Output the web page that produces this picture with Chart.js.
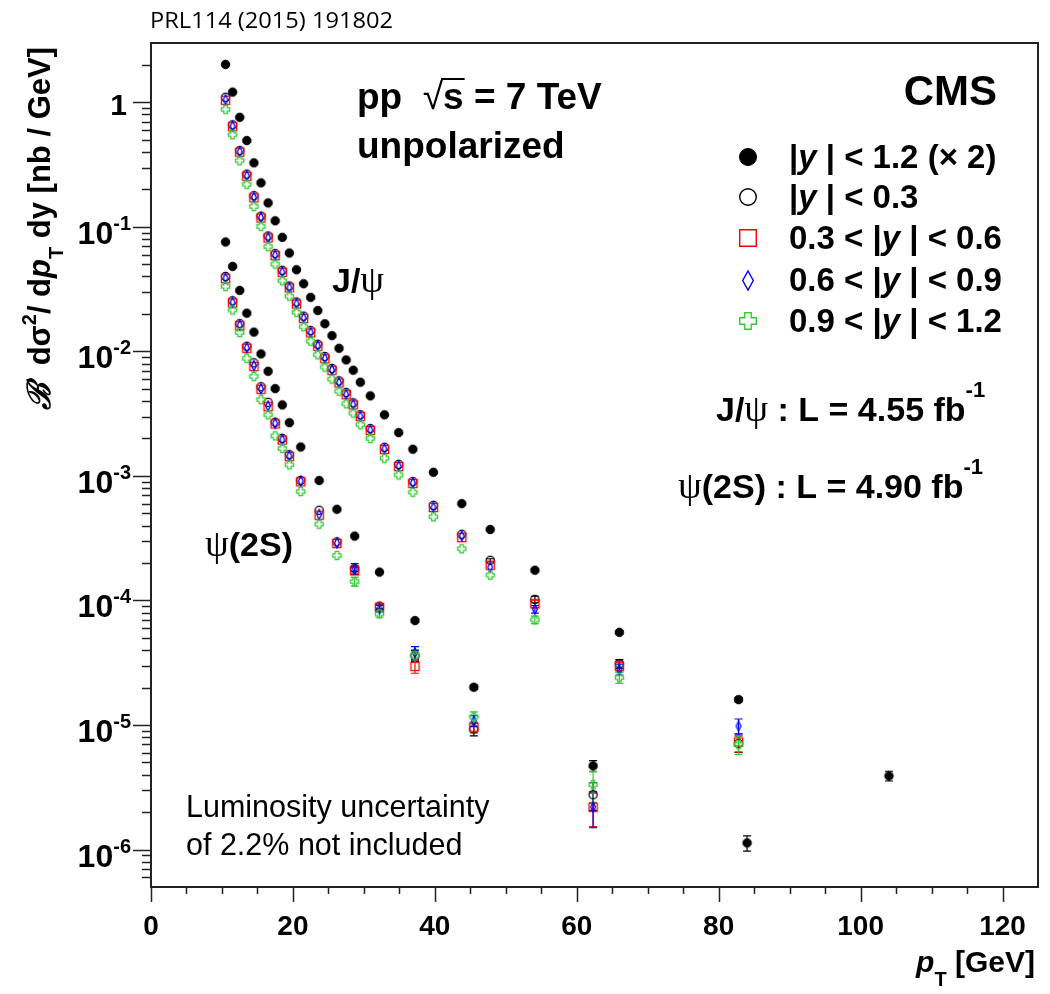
<!DOCTYPE html>
<html>
<head>
<meta charset="utf-8">
<script src="https://cdn.jsdelivr.net/npm/chart.js@4.4.1/dist/chart.umd.min.js"></script>
<style>
  html, body { margin: 0; padding: 0; background: #fff; }
  canvas { display: block; }
</style>
</head>
<body>
<canvas id="xsec" width="1050" height="994"></canvas>
<script>
// pT bin centres [GeV]
const ptJpsi = [10.5, 11.5, 12.5, 13.5, 14.5, 15.5, 16.5, 17.5, 18.5, 19.5,
                20.5, 21.5, 22.5, 23.5, 24.5, 25.5, 26.5, 27.5, 28.5, 29.5,
                30.9, 32.9, 34.9, 36.9, 39.8, 43.8, 47.8, 54.1, 66.0, 82.8, 104.0];
const ptPsi2S = [10.5, 11.5, 12.5, 13.5, 14.5, 15.5, 16.5, 17.5, 18.5, 19.5,
                 21.1, 23.7, 26.2, 28.7, 32.2, 37.2, 45.5, 62.3, 84.0];

// J/psi cross sections [nb/GeV]; |y| < 1.2 already multiplied by 2
const jpsiAll = [2.02, 1.21, 0.76, 0.494, 0.327, 0.226, 0.156, 0.112, 0.0825, 0.0618,
                 0.0453, 0.035, 0.0272, 0.0213, 0.0167, 0.0134, 0.0106, 0.00855, 0.00707, 0.00566,
                 0.0044, 0.0031, 0.00223, 0.00164, 0.00107, 6.0e-4, 3.72e-4, 1.75e-4, 5.55e-5, 1.6e-5, 3.9e-6];
const jpsiY0 = [1.1, 0.66, 0.41, 0.265, 0.178, 0.122, 0.0845, 0.061, 0.0448, 0.0335,
                0.0249, 0.0192, 0.0147, 0.0114, 0.0091, 0.0073, 0.0058, 0.00468, 0.00386, 0.0031,
                0.0024, 0.0017, 0.00124, 9.0e-4, 5.8e-4, 3.4e-4, 2.1e-4, 1.02e-4, 3.1e-5, 7.1e-6];
const jpsiY1 = [1.04, 0.638, 0.398, 0.255, 0.171, 0.118, 0.0815, 0.0588, 0.0432, 0.0324,
                0.024, 0.0184, 0.0141, 0.011, 0.00873, 0.00705, 0.00558, 0.00449, 0.00372, 0.003,
                0.00232, 0.00163, 0.00119, 8.7e-4, 5.58e-4, 3.2e-4, 1.92e-4, 9.4e-5, 2.96e-5, 7.3e-6];
const jpsiY2 = [1.05, 0.645, 0.402, 0.258, 0.173, 0.119, 0.082, 0.0593, 0.0435, 0.0326,
                0.0242, 0.0186, 0.0142, 0.0111, 0.0088, 0.0071, 0.00562, 0.00452, 0.00375, 0.00302,
                0.00234, 0.00165, 0.0012, 8.8e-4, 5.6e-4, 3.3e-4, 1.85e-4, 8.5e-5, 2.8e-5, 9.8e-6];
const jpsiY3 = [0.88, 0.55, 0.34, 0.22, 0.146, 0.101, 0.0695, 0.0503, 0.037, 0.0278,
                0.0206, 0.0158, 0.0121, 0.0094, 0.0075, 0.006, 0.0048, 0.0038, 0.0032, 0.00258,
                0.002, 0.00139, 0.00102, 7.4e-4, 4.7e-4, 2.6e-4, 1.6e-4, 7.0e-5, 2.4e-5, 7.0e-6];

// psi(2S) cross sections [nb/GeV]
const psiAll = [0.0757, 0.0482, 0.0309, 0.0203, 0.0143, 0.00955, 0.00693, 0.00503, 0.00372, 0.00268,
                0.00171, 9.2e-4, 5.4e-4, 3.29e-4, 1.69e-4, 6.9e-5, 2.01e-5, 4.7e-6, 1.13e-6];
const psiY0 = [0.04, 0.0255, 0.0167, 0.011, 0.0081, 0.0052, 0.0039, 0.0027, 0.002, 0.00148,
               9.2e-4, 5.3e-4, 2.95e-4, 1.8e-4, 9.0e-5, 3.6e-5, 9.3e-6, 2.75e-6];
const psiY1 = [0.0384, 0.0245, 0.0161, 0.0106, 0.00756, 0.00497, 0.0036, 0.00262, 0.00194, 0.00143,
               8.98e-4, 4.84e-4, 2.87e-4, 1.73e-4, 8.8e-5, 2.96e-5, 9.6e-6, 2.18e-6];
const psiY2 = [0.0388, 0.0248, 0.0163, 0.0107, 0.0077, 0.005, 0.00365, 0.00265, 0.00196, 0.00145,
               9.1e-4, 4.9e-4, 2.9e-4, 1.8e-4, 8.6e-5, 3.8e-5, 1.08e-5, 2.2e-6];
const psiY3 = [0.0333, 0.0215, 0.0142, 0.0088, 0.0063, 0.0041, 0.0031, 0.0021, 0.00166, 0.00123,
               7.5e-4, 4.1e-4, 2.3e-4, 1.42e-4, 7.8e-5, 3.6e-5, 1.16e-5, 3.32e-6];

// relative uncertainties, keyed by pT bin (only where the bar sticks out of the marker)
const errJpsiAll = { 54.1: 0.02, 66: 0.03, 82.8: 0.04, 104: 0.09 };
const errJpsiY0 = { 47.8: 0.03, 54.1: 0.06, 66: 0.08, 82.8: 0.15 };
const errJpsiY1 = { 54.1: 0.07, 66: 0.1, 82.8: 0.17 };
const errJpsiY2 = { 54.1: 0.07, 66: 0.1, 82.8: 0.14 };
const errJpsiY3 = { 54.1: 0.07, 66: 0.1, 82.8: 0.17 };
const errPsiAll = { 37.2: 0.03, 45.5: 0.04, 62.3: 0.1, 84: 0.14 };
const errPsiY0 = { 28.7: 0.05, 32.2: 0.05, 37.2: 0.1, 45.5: 0.12, 62.3: 0.25 };
const errPsiY1 = { 28.7: 0.06, 32.2: 0.06, 37.2: 0.12, 45.5: 0.1, 62.3: 0.3 };
const errPsiY2 = { 28.7: 0.1, 32.2: 0.06, 37.2: 0.12, 45.5: 0.1, 62.3: 0.32 };
const errPsiY3 = { 28.7: 0.08, 32.2: 0.06, 37.2: 0.12, 45.5: 0.1, 62.3: 0.28 };

const yDecades = [1, 1e-1, 1e-2, 1e-3, 1e-4, 1e-5, 1e-6];
const xTicks = [0, 20, 40, 60, 80, 100, 120];

const SANS = '"Liberation Sans", Arial, Helvetica, sans-serif';
const GREEK = '"Liberation Serif", "DejaVu Serif", serif';
const bold = n => `bold ${n}px ${SANS}`;
const boldIt = n => `italic bold ${n}px ${SANS}`;
const plain = n => `${n}px ${SANS}`;
const greek = n => `${n}px ${GREEK}`;

const RED = '#ff0000', BLUE = '#0000ff', GREEN = '#33cc33';

// ROOT-like marker glyphs rendered onto small canvases
function makeMarker(kind, size, color, lw) {
  const pad = 2;
  const w = kind === 'diamond' ? Math.round(size * 0.64) : size;
  const c = document.createElement('canvas');
  c.width = w + pad * 2;
  c.height = size + pad * 2;
  const g = c.getContext('2d');
  g.strokeStyle = color;
  g.fillStyle = color;
  g.lineWidth = lw;
  const cx = c.width / 2, cy = c.height / 2, h = size / 2, hw = w / 2;
  g.beginPath();
  if (kind === 'dot' || kind === 'circle') {
    g.arc(cx, cy, h - lw / 2, 0, Math.PI * 2);
  } else if (kind === 'square') {
    g.rect(cx - h + lw / 2, cy - h + lw / 2, size - lw, size - lw);
  } else if (kind === 'diamond') {
    g.moveTo(cx, cy - h); g.lineTo(cx + hw - lw / 2, cy);
    g.lineTo(cx, cy + h); g.lineTo(cx - hw + lw / 2, cy); g.closePath();
  } else if (kind === 'cross') {
    const a = size * 0.18, e = h - lw / 2;
    g.moveTo(cx - a, cy - e); g.lineTo(cx + a, cy - e); g.lineTo(cx + a, cy - a);
    g.lineTo(cx + e, cy - a); g.lineTo(cx + e, cy + a); g.lineTo(cx + a, cy + a);
    g.lineTo(cx + a, cy + e); g.lineTo(cx - a, cy + e); g.lineTo(cx - a, cy + a);
    g.lineTo(cx - e, cy + a); g.lineTo(cx - e, cy - a); g.lineTo(cx - a, cy - a);
    g.closePath();
  }
  if (kind === 'dot') g.fill();
  g.stroke();
  return c;
}

const styles = [
  { kind: 'dot', color: '#000', label: [['|', 0], ['y', 1], [' | < 1.2 (', 0], ['\u00d7', 0], [' 2)', 0]] },
  { kind: 'circle', color: '#000', label: [['|', 0], ['y', 1], [' | < 0.3', 0]] },
  { kind: 'square', color: RED, label: [['0.3 < |', 0], ['y', 1], [' | < 0.6', 0]] },
  { kind: 'diamond', color: BLUE, label: [['0.6 < |', 0], ['y', 1], [' | < 0.9', 0]] },
  { kind: 'cross', color: GREEN, label: [['0.9 < |', 0], ['y', 1], [' | < 1.2', 0]] }
];
const plotMarkers = styles.map(s => makeMarker(s.kind, s.kind === 'diamond' ? 10 : 9.5, s.color, s.kind === 'dot' ? 1 : 1.3));
const legendMarkers = styles.map(s => makeMarker(s.kind, s.kind === 'diamond' ? 19 : 18, s.color, s.kind === 'dot' ? 1 : 1.4));

function series(pt, vals, idx, errs, tag) {
  return {
    label: tag,
    data: vals.map((v, i) => ({ x: pt[i], y: v })),
    pointStyle: plotMarkers[idx],
    pointRadius: 4.5,
    pointHoverRadius: 4.5,
    showLine: false,
    borderColor: styles[idx].color,
    backgroundColor: styles[idx].color,
    order: 5 - idx,
    errors: errs
  };
}

const datasets = [
  series(ptJpsi, jpsiAll, 0, errJpsiAll, 'J/psi |y|<1.2'),
  series(ptJpsi, jpsiY0, 1, errJpsiY0, 'J/psi |y|<0.3'),
  series(ptJpsi, jpsiY1, 2, errJpsiY1, 'J/psi 0.3-0.6'),
  series(ptJpsi, jpsiY2, 3, errJpsiY2, 'J/psi 0.6-0.9'),
  series(ptJpsi, jpsiY3, 4, errJpsiY3, 'J/psi 0.9-1.2'),
  series(ptPsi2S, psiAll, 0, errPsiAll, 'psi(2S) |y|<1.2'),
  series(ptPsi2S, psiY0, 1, errPsiY0, 'psi(2S) |y|<0.3'),
  series(ptPsi2S, psiY1, 2, errPsiY1, 'psi(2S) 0.3-0.6'),
  series(ptPsi2S, psiY2, 3, errPsiY2, 'psi(2S) 0.6-0.9'),
  series(ptPsi2S, psiY3, 4, errPsiY3, 'psi(2S) 0.9-1.2')
];

// draws a run of text pieces: [text, font, dy]
function rich(ctx, x, y, parts, align) {
  let w = 0;
  parts.forEach(p => { ctx.font = p[1]; w += ctx.measureText(p[0]).width; });
  let cx = align === 'right' ? x - w : align === 'center' ? x - w / 2 : x;
  parts.forEach(p => {
    ctx.font = p[1];
    ctx.fillText(p[0], cx, y + (p[2] || 0));
    cx += ctx.measureText(p[0]).width;
  });
  return w;
}

const errorBars = {
  id: 'errorBars',
  beforeDatasetsDraw(chart) {
    const { ctx, scales: { x, y } } = chart;
    ctx.save();
    ctx.lineWidth = 1.2;
    chart.data.datasets.forEach(ds => {
      ds.data.forEach(p => {
        const e = ds.errors[String(p.x)];
        if (!e) return;
        const px = x.getPixelForValue(p.x);
        const top = y.getPixelForValue(p.y * (1 + e));
        const bot = y.getPixelForValue(p.y * (1 - e));
        ctx.strokeStyle = ds.borderColor;
        ctx.beginPath();
        ctx.moveTo(px, top); ctx.lineTo(px, bot);
        ctx.moveTo(px - 4, top); ctx.lineTo(px + 4, top);
        ctx.moveTo(px - 4, bot); ctx.lineTo(px + 4, bot);
        ctx.stroke();
      });
    });
    ctx.restore();
  }
};

const frameAndText = {
  id: 'frameAndText',
  afterDraw(chart) {
    const { ctx, chartArea: a, scales: { x, y } } = chart;
    ctx.save();
    ctx.fillStyle = '#000';
    ctx.textBaseline = 'alphabetic';

    // frame
    ctx.strokeStyle = '#222';
    ctx.lineWidth = 2;
    ctx.strokeRect(a.left, a.top, a.right - a.left, a.bottom - a.top);

    // y ticks (outside, major at decades, minor at 2..9)
    ctx.lineWidth = 1.5;
    ctx.beginPath();
    for (let d = -7; d <= 0; d++) {
      for (let m = 1; m <= 9; m++) {
        const v = m * Math.pow(10, d);
        if (v <= y.min * 1.0001 || v >= y.max * 0.9999) continue;
        const py = Math.round(y.getPixelForValue(v)) + 0.5;
        ctx.moveTo(a.left, py);
        ctx.lineTo(a.left - (m === 1 ? 18 : 9), py);
      }
    }
    // x ticks every 5 GeV, major every 20
    for (let t = 5; t < x.max; t += 5) {
      const px = Math.round(x.getPixelForValue(t)) + 0.5;
      ctx.moveTo(px, a.bottom);
      ctx.lineTo(px, a.bottom + (t % 20 === 0 ? 15 : 7));
    }
    const px0 = Math.round(x.getPixelForValue(0)) + 0.5;
    ctx.moveTo(px0, a.bottom); ctx.lineTo(px0, a.bottom + 15);
    ctx.stroke();

    // y tick labels
    yDecades.forEach(v => {
      const py = y.getPixelForValue(v);
      if (v === 1) {
        rich(ctx, 127, py + 13, [['1', bold(30)]], 'right');
      } else {
        const exp = String(Math.round(Math.log10(v)));
        rich(ctx, 131, py + 17, [['10', bold(32)], [exp, bold(20), -14]], 'right');
      }
    });
    // x tick labels
    xTicks.forEach(t => {
      rich(ctx, x.getPixelForValue(t), 935, [[String(t), bold(28)]], 'center');
    });

    // axis titles
    rich(ctx, 1035, 972, [['p', boldIt(30)], ['T', bold(20), 14], [' [GeV]', bold(30)]], 'right');
    ctx.save();
    ctx.translate(50, 47);
    ctx.rotate(-Math.PI / 2);
    rich(ctx, 0, 0, [
      ['\u212c', `italic bold 32px "DejaVu Serif", serif`],
      ['  d\u03c3', bold(31)], ['2', bold(20), -14], ['/ d', bold(31)],
      ['p', boldIt(31)], ['T', bold(20), 13], [' dy [nb / GeV]', bold(31)]
    ], 'right');
    ctx.restore();

    // journal reference above the frame
    ctx.save();
    ctx.font = `22px "Open Sans", ${SANS}`;
    const ref = 'PRL114 (2015) 191802';
    const sx = 243 / ctx.measureText(ref).width;
    ctx.translate(150, 28);
    ctx.scale(sx, 1);
    ctx.fillText(ref, 0, 0);
    ctx.restore();

    // header texts
    const w = rich(ctx, 357, 109, [['pp  ', bold(37)]], 'left');
    ctx.font = plain(37);
    ctx.fillText('\u221a', 357 + w, 109);
    const rw = ctx.measureText('\u221a').width;
    ctx.font = bold(37);
    const sw = ctx.measureText('s').width;
    ctx.fillRect(357 + w + rw - 2, 78, sw + 3, 2);
    rich(ctx, 357 + w + rw, 109, [['s = 7 TeV', bold(37)]], 'left');
    rich(ctx, 357, 158, [['unpolarized', bold(37)]], 'left');
    rich(ctx, 997, 105, [['CMS', bold(42)]], 'right');

    // legend
    const rows = [157, 197, 238, 280, 321];
    styles.forEach((s, i) => {
      const img = legendMarkers[i];
      ctx.drawImage(img, Math.round(747.5 - img.width / 2), Math.round(rows[i] - img.height / 2));
      rich(ctx, 789, rows[i] + 11, s.label.map(p => [p[0], p[1] ? boldIt(33) : bold(33)]), 'left');
    });

    // luminosities
    rich(ctx, 716, 421, [['J/', bold(34)], ['\u03c8', greek(38)], [' : L = 4.55 fb', bold(34)], ['-1', bold(22), -24]], 'left');
    rich(ctx, 678, 498, [['\u03c8', greek(38)], ['(2S) : L = 4.90 fb', bold(34)], ['-1', bold(22), -24]], 'left');

    // curve labels
    rich(ctx, 332, 292, [['J/', bold(34)], ['\u03c8', greek(38)]], 'left');
    rich(ctx, 205, 556, [['\u03c8', greek(38)], ['(2S)', bold(34)]], 'left');

    // note
    rich(ctx, 186, 817, [['Luminosity uncertainty', plain(30.5)]], 'left');
    rich(ctx, 186, 855, [['of 2.2% not included', plain(30.5)]], 'left');

    ctx.restore();
  }
};

new Chart(document.getElementById('xsec'), {
  type: 'scatter',
  data: { datasets },
  options: {
    responsive: false,
    animation: false,
    layout: { padding: { left: 151, top: 43, right: 12, bottom: 107 } },
    plugins: { legend: { display: false }, tooltip: { enabled: false } },
    scales: {
      x: { type: 'linear', min: 0, max: 125, display: false },
      y: { type: 'logarithmic', min: 5e-7, max: 3, display: false }
    }
  },
  plugins: [errorBars, frameAndText]
});
</script>
</body>
</html>
